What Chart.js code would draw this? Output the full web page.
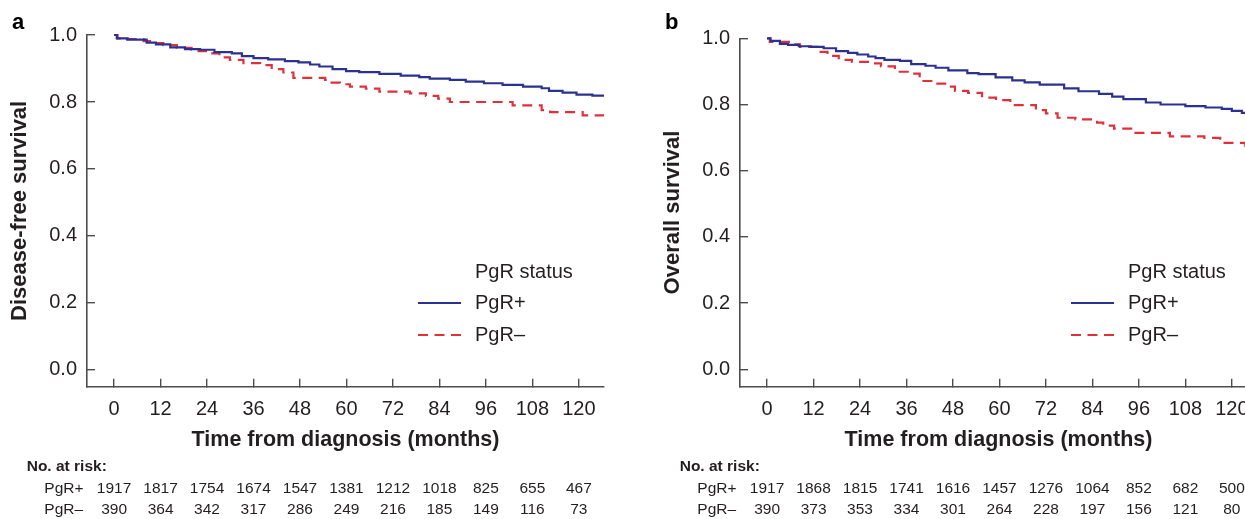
<!DOCTYPE html>
<html><head><meta charset="utf-8">
<script src="https://cdn.jsdelivr.net/npm/chart.js@4.4.1/dist/chart.umd.min.js"></script>
<style>
html,body{margin:0;padding:0;background:#fff;width:1245px;height:519px;overflow:hidden;position:relative;font-family:"Liberation Sans",Arial,sans-serif;}
canvas{position:absolute;top:0;}
#ca{left:0}
#cb{left:653px}
.pl{position:absolute;font-weight:bold;font-size:22px;color:#000;line-height:1;}
</style></head><body>
<canvas id="ca" width="620" height="519"></canvas>
<canvas id="cb" width="620" height="519"></canvas>
<div class="pl" style="left:12px;top:11px">a</div>
<div class="pl" style="left:665px;top:11px">b</div>
<script>
// ---- data ----
const months = [0, 12, 24, 36, 48, 60, 72, 84, 96, 108, 120];
const survTicks = [0, 0.2, 0.4, 0.6, 0.8, 1.0];
const groupLabels = ['PgR+', 'PgR\u2013'];
const legendTitle = 'PgR status';

// Panel a: disease-free survival
const dfsPosT = [0, 0.7, 3.4, 8.4, 10.8, 14.5, 18.3, 22.2, 25.9, 30.4, 33, 36, 39.8, 44.1, 47.6, 50.6, 53, 56.4, 59.9, 63.3, 68.5, 74, 78.8, 81.5, 86.7, 90.8, 95.5, 100.3, 105.6, 110.4, 112.3, 115.8, 119.4, 123.5, 126.5];
const dfsPosV = [1.0, 0.99, 0.986, 0.977, 0.972, 0.963, 0.958, 0.956, 0.949, 0.945, 0.937, 0.931, 0.927, 0.922, 0.918, 0.912, 0.906, 0.898, 0.892, 0.889, 0.884, 0.879, 0.874, 0.870, 0.866, 0.861, 0.856, 0.851, 0.846, 0.841, 0.833, 0.828, 0.822, 0.819, 0.819];
const dfsNegT = [0, 0.9, 3.5, 7.6, 9.7, 12.7, 16.2, 20, 21.8, 24.8, 27.2, 29.9, 33.4, 37.7, 40.7, 43.7, 46.3, 54.5, 55.7, 58.3, 60.9, 65, 68.5, 76.4, 80.5, 83.7, 86.7, 102.9, 110.4, 112.6, 121, 126.5];
const dfsNegV = [1.0, 0.99, 0.988, 0.982, 0.976, 0.970, 0.962, 0.956, 0.952, 0.945, 0.933, 0.926, 0.916, 0.910, 0.898, 0.888, 0.872, 0.866, 0.858, 0.853, 0.846, 0.840, 0.831, 0.826, 0.818, 0.810, 0.800, 0.790, 0.776, 0.770, 0.760, 0.760];
const dfsRiskPos = [1917, 1817, 1754, 1674, 1547, 1381, 1212, 1018, 825, 655, 467];
const dfsRiskNeg = [390, 364, 342, 317, 286, 249, 216, 185, 149, 116, 73];

// Panel b: overall survival
const osPosT = [0, 0.9, 3.3, 5.4, 8.2, 11.3, 14.6, 17.8, 20.9, 23.3, 26.1, 28, 30.3, 34.3, 37.2, 40.9, 43.5, 46.8, 51.7, 54.6, 59, 63.3, 66.5, 70.4, 76.7, 80.4, 85.7, 89.1, 92, 97.8, 101.6, 108, 113.2, 117.4, 120, 122.6, 126.5];
const osPosV = [1.0, 0.992, 0.983, 0.980, 0.976, 0.974, 0.970, 0.961, 0.956, 0.951, 0.945, 0.940, 0.935, 0.932, 0.922, 0.917, 0.911, 0.903, 0.895, 0.892, 0.882, 0.873, 0.867, 0.860, 0.849, 0.840, 0.832, 0.824, 0.816, 0.806, 0.800, 0.795, 0.791, 0.787, 0.781, 0.775, 0.775];
const osNegT = [0, 0.7, 6.1, 8.5, 12.9, 15.6, 18.5, 21.9, 26.5, 29.4, 33.0, 36.3, 39.4, 42.8, 46.3, 48.5, 51.9, 55.5, 59.1, 62.8, 69.4, 72.0, 75, 79.6, 85.2, 86.8, 89.6, 94.8, 104, 112.9, 117, 123.5, 126.5];
const osNegV = [1.0, 0.989, 0.982, 0.974, 0.959, 0.947, 0.935, 0.929, 0.924, 0.915, 0.899, 0.893, 0.871, 0.863, 0.854, 0.841, 0.835, 0.821, 0.813, 0.798, 0.783, 0.773, 0.760, 0.755, 0.745, 0.736, 0.727, 0.714, 0.704, 0.699, 0.684, 0.675, 0.675];
const osRiskPos = [1917, 1868, 1815, 1741, 1616, 1457, 1276, 1064, 852, 682, 500];
const osRiskNeg = [390, 373, 353, 334, 301, 264, 228, 197, 156, 121, 80];

// ---- styling ----
const FONT = '"Liberation Sans", Arial, Helvetica, sans-serif';
const TEXT = '#231f20';
const AXIS = '#4d4d4d';
const BLUE = '#2b3190';
const RED = '#e0313b';
Chart.defaults.font.family = FONT;
Chart.defaults.color = TEXT;

const pts = (t, v) => t.map((x, i) => ({x: x, y: v[i]}));

const overlay = {
  id: 'overlay',
  afterDraw(chart, args, opts) {
    const {ctx, chartArea: ca, scales: {x}} = chart;
    const ds = chart.data.datasets;
    ctx.save();
    ctx.fillStyle = TEXT;
    ctx.textBaseline = 'middle';
    ctx.textAlign = 'left';
    ctx.font = '20px ' + FONT;
    const lx = ca.left + 331, tx = ca.left + 388, base = ca.bottom;
    ctx.fillText(legendTitle, tx, base - 114);
    ds.forEach((d, i) => {
      const y = base - 83.7 + i * 32;
      ctx.strokeStyle = d.borderColor;
      ctx.lineWidth = d.borderWidth;
      ctx.setLineDash(d.borderDash || []);
      ctx.beginPath(); ctx.moveTo(lx, y); ctx.lineTo(lx + 43, y); ctx.stroke();
      ctx.setLineDash([]);
      ctx.fillText(d.label, tx, y);
    });
    ctx.font = 'bold 15.5px ' + FONT;
    ctx.fillText('No. at risk:', ca.left - 60.3, 466.5);
    ctx.font = '15.5px ' + FONT;
    opts.risk.forEach((row, i) => {
      const y = 488.3 + i * 21.7;
      ctx.textAlign = 'left';
      ctx.fillText(ds[i].label, ca.left - 42.7, y);
      ctx.textAlign = 'center';
      row.forEach((n, j) => ctx.fillText(String(n), x.getPixelForValue(months[j]), y));
    });
    ctx.restore();
  }
};

function makeChart(id, c) {
  return new Chart(document.getElementById(id), {
    type: 'line',
    data: {
      datasets: [
        {label: groupLabels[0], data: pts(c.posT, c.posV), stepped: true, borderColor: BLUE, borderWidth: 2.2, pointRadius: 0, fill: false, clip: false},
        {label: groupLabels[1], data: pts(c.negT, c.negV), stepped: true, borderColor: RED, borderWidth: 2.2, borderDash: [10, 6.5], pointRadius: 0, fill: false, clip: false}
      ]
    },
    options: {
      responsive: false,
      animation: false,
      events: [],
      layout: {padding: {top: c.top, right: 16, bottom: 0, left: 0}},
      plugins: {legend: {display: false}, tooltip: {enabled: false}, overlay: {risk: c.risk}},
      scales: {
        x: {
          type: 'linear', min: -7, max: 126.5,
          afterBuildTicks: s => { s.ticks = months.map(v => ({value: v})); },
          afterFit: s => { s.height = 519 - 386.7; },
          ticks: {autoSkip: false, maxRotation: 0, padding: 19, font: {size: 20}, color: TEXT, callback: v => String(v)},
          grid: {drawOnChartArea: false, drawTicks: true, tickLength: -8, color: AXIS, lineWidth: 1.4},
          border: {display: true, color: AXIS, width: 1.6},
          title: {display: true, text: 'Time from diagnosis (months)', font: {size: 21.5, weight: 'bold'}, color: TEXT, padding: {top: 0, bottom: 66}}
        },
        y: {
          type: 'linear', min: c.ymin, max: 1.0,
          afterBuildTicks: s => { s.ticks = survTicks.map(v => ({value: v})); },
          afterFit: s => { s.width = 87; },
          ticks: {padding: 18, font: {size: 20}, color: TEXT, callback: v => Number(v).toFixed(1)},
          grid: {drawOnChartArea: false, drawTicks: true, tickLength: -8, color: AXIS, lineWidth: 1.4},
          border: {display: true, color: AXIS, width: 1.6},
          title: {display: true, text: c.yTitle, font: {size: 22, weight: 'bold'}, color: TEXT, padding: {top: 6.8, bottom: 0}}
        }
      }
    },
    plugins: [overlay]
  });
}

makeChart('ca', {posT: dfsPosT, posV: dfsPosV, negT: dfsNegT, negV: dfsNegV, risk: [dfsRiskPos, dfsRiskNeg], yTitle: 'Disease-free survival', top: 35, ymin: -0.05});
makeChart('cb', {posT: osPosT, posV: osPosV, negT: osNegT, negV: osNegV, risk: [osRiskPos, osRiskNeg], yTitle: 'Overall survival', top: 38.3, ymin: -0.0525});
</script>
</body></html>
